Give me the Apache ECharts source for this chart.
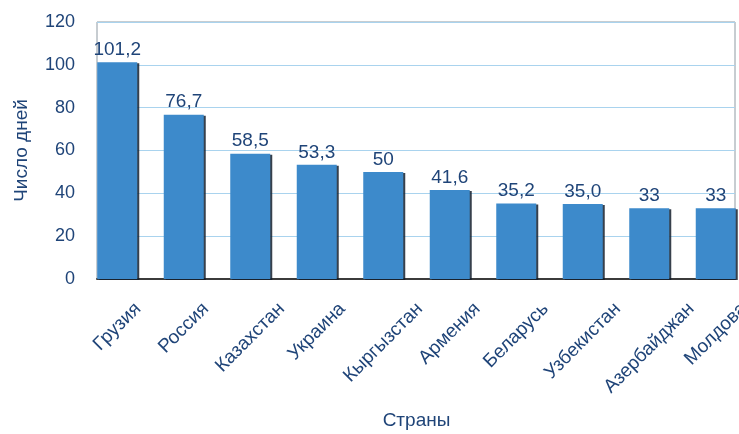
<!DOCTYPE html>
<html>
<head>
<meta charset="utf-8">
<script src="https://cdn.jsdelivr.net/npm/echarts@6/dist/echarts.min.js"></script>
<style>
  html, body { margin: 0; padding: 0; background: #ffffff; }
  #chart { width: 739px; height: 434px; }
</style>
</head>
<body>
<div id="chart"></div>
<script>
// ---- data ----
var categories = ['Грузия', 'Россия', 'Казахстан', 'Украина', 'Кыргызстан', 'Армения', 'Беларусь', 'Узбекистан', 'Азербайджан', 'Молдова'];
var values = [101.2, 76.7, 58.5, 53.3, 50, 41.6, 35.2, 35.0, 33, 33];
var valueLabels = ['101,2', '76,7', '58,5', '53,3', '50', '41,6', '35,2', '35,0', '33', '33'];
var yTicks = [0, 20, 40, 60, 80, 100, 120];
var yAxisTitle = 'Число дней';
var xAxisTitle = 'Страны';

// ---- styling ----
var FONT = '"Liberation Sans", Arial, Helvetica, sans-serif';
var NAVY = '#1f4478';
var LABEL_SIZE = 19;

// Rotated category labels: centred on the bar, with their upper ends on a common line (as in the original).
// Width of each label is measured; a spacer line above and a spacer token after shift the text.
var cnv = document.createElement('canvas').getContext('2d');
cnv.font = LABEL_SIZE + 'px "Liberation Sans"';
var rich = { t: { fontSize: LABEL_SIZE, fontFamily: FONT, color: NAVY } };
categories.forEach(function (c, i) {
  var L = cnv.measureText(c).width;
  rich['s' + i] = { height: L / 2, fontSize: 1, lineHeight: L / 2 };
  rich['r' + i] = { width: L / 2, fontSize: 1 };
});

var chart = echarts.init(document.getElementById('chart'));
chart.setOption({
  backgroundColor: '#ffffff',
  animation: false,
  grid: [
    { left: 97, right: 4, top: 22, bottom: 155, show: true, borderColor: '#8f9aa3', borderWidth: 1, backgroundColor: 'transparent', outerBoundsMode: 'none', containLabel: false },
    { left: 84, width: 665, top: 22, bottom: 155, outerBoundsMode: 'none', containLabel: false }
  ],
  xAxis: [
    { type: 'value', gridIndex: 0, min: 0, max: 1, show: true,
      axisLine: { show: true, onZero: false, lineStyle: { color: '#3b3b3b', width: 2 } },
      axisTick: { show: false }, axisLabel: { show: false }, splitLine: { show: false } },
    { type: 'category', gridIndex: 1, data: categories,
      axisLine: { show: false }, axisTick: { show: false },
      axisLabel: { rotate: 45, align: 'center', verticalAlign: 'middle', margin: 27, interval: 0,
        color: NAVY, fontSize: LABEL_SIZE, fontFamily: FONT, rich: rich,
        formatter: function (v, i) { return '{s' + i + '| }\n{t|' + v + '}{r' + i + '| }'; } },
      name: xAxisTitle, nameLocation: 'middle', nameGap: 132,
      nameTextStyle: { color: NAVY, fontSize: 19, fontFamily: FONT } }
  ],
  yAxis: [
    { type: 'value', gridIndex: 0, min: yTicks[0], max: yTicks[yTicks.length - 1], interval: 20,
      axisLine: { show: false }, axisTick: { show: false },
      axisLabel: { margin: 22, color: NAVY, fontSize: 18, fontFamily: FONT },
      splitLine: { show: true, lineStyle: { color: '#a9d3ee', width: 1 } },
      name: yAxisTitle, nameLocation: 'middle', nameRotate: 90, nameGap: 66,
      nameTextStyle: { color: NAVY, fontSize: 19, fontFamily: FONT } },
    { type: 'value', gridIndex: 1, min: yTicks[0], max: yTicks[yTicks.length - 1], interval: 20, show: false }
  ],
  series: [
    { type: 'bar', xAxisIndex: 1, yAxisIndex: 1, data: values, barWidth: 40,
      itemStyle: { color: '#3d8acb', shadowColor: 'rgba(20,30,45,0.85)', shadowOffsetX: 2, shadowOffsetY: 1, shadowBlur: 0 },
      label: { show: true, position: 'top', distance: 3, color: NAVY, fontSize: 19, fontFamily: FONT,
        formatter: function (p) { return valueLabels[p.dataIndex]; } } }
  ]
});
</script>
</body>
</html>
